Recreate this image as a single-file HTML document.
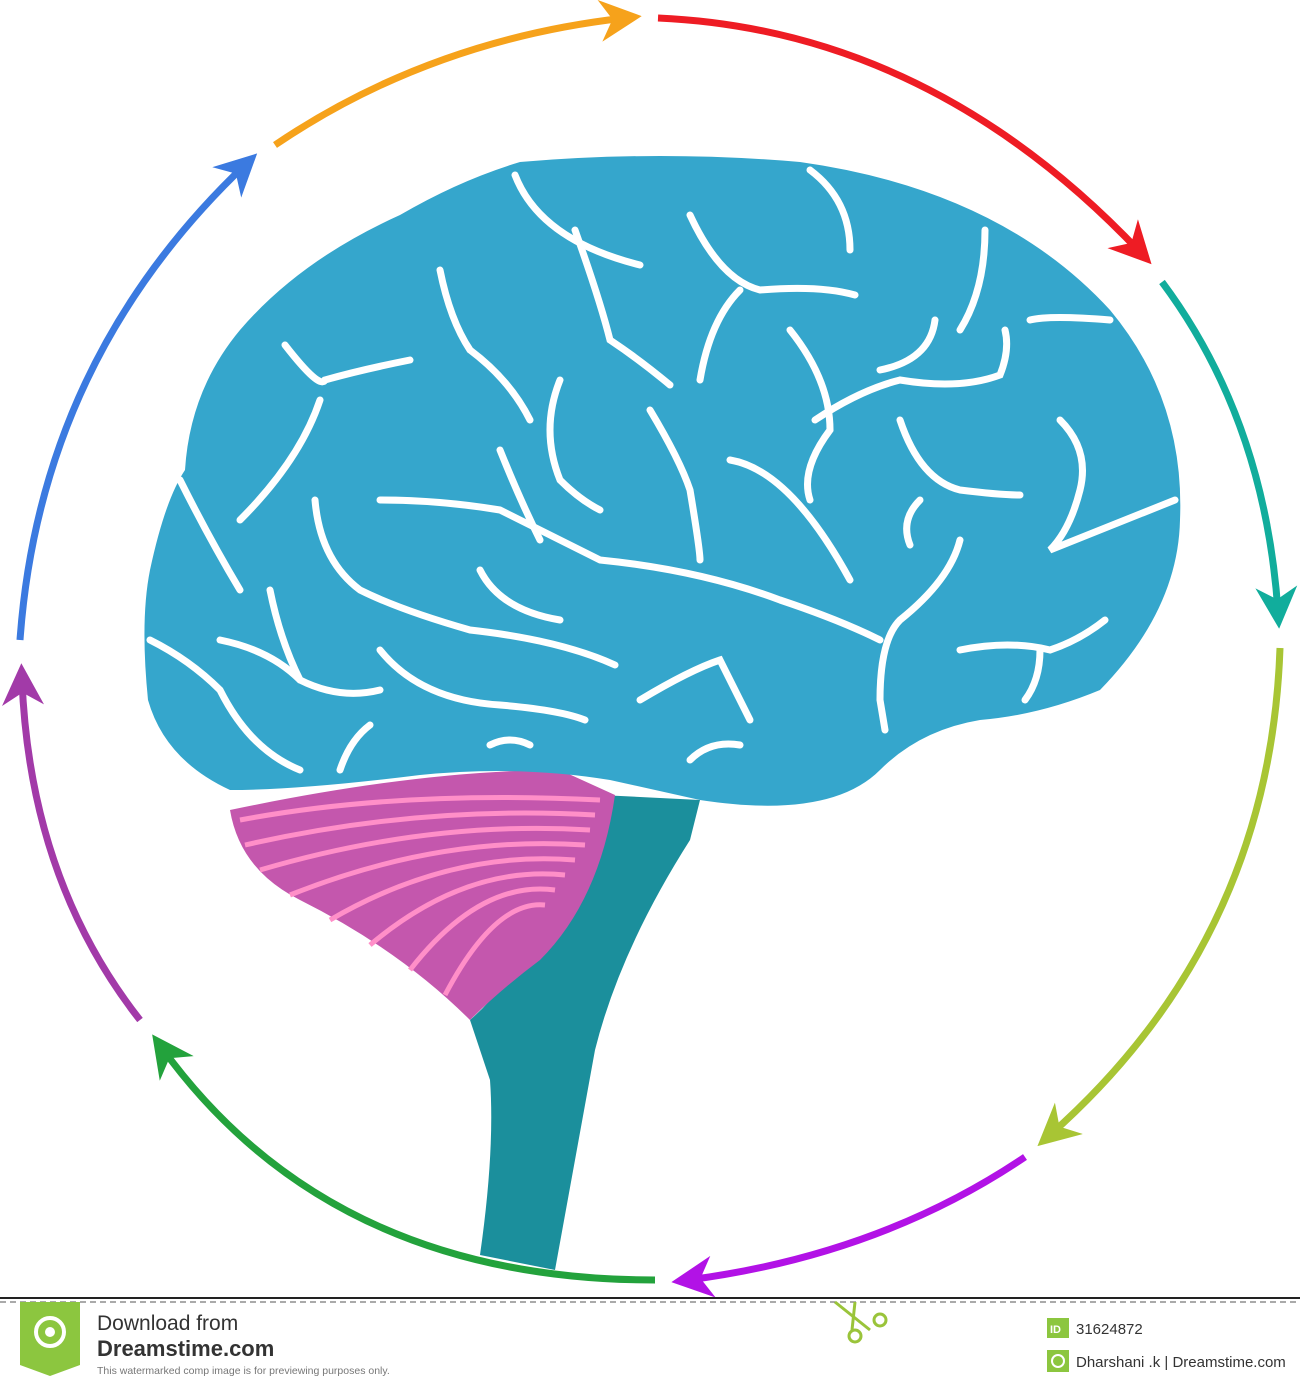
<!DOCTYPE html>
<html><head><meta charset="utf-8"><style>
body{margin:0;background:#fff;width:1300px;height:1389px;overflow:hidden;font-family:"Liberation Sans",sans-serif}
svg{position:absolute;left:0;top:0}
</style></head><body>
<svg width="1300" height="1389" viewBox="0 0 1300 1389">
<defs>
<marker id="ah" viewBox="0 0 10 10" refX="6" refY="5" markerWidth="6" markerHeight="6" orient="auto" markerUnits="strokeWidth"><path d="M0,0 L10,5 L0,10 L3,5 Z" fill="context-stroke"/></marker>
</defs>
<g fill="none" stroke-width="7">
<path d="M275,145 Q430,40 625,18" stroke="#f6a21b" marker-end="url(#ah)"/>
<path d="M658,18 Q930,30 1140,252" stroke="#ee1c24" marker-end="url(#ah)"/>
<path d="M1162,282 Q1265,420 1278,612" stroke="#11ad9c" marker-end="url(#ah)"/>
<path d="M1280,648 Q1270,940 1050,1135" stroke="#a8c534" marker-end="url(#ah)"/>
<path d="M1025,1157 Q880,1255 688,1280" stroke="#b212e6" marker-end="url(#ah)"/>
<path d="M655,1280 Q330,1280 162,1048" stroke="#23a23c" marker-end="url(#ah)"/>
<path d="M140,1020 Q30,880 22,680" stroke="#a23aa8" marker-end="url(#ah)"/>
<path d="M20,640 Q40,360 245,165" stroke="#3b7ae0" marker-end="url(#ah)"/>
</g>
<path fill="#1b8f9c" d="M600,795 L700,800 L690,840 Q620,950 595,1050 L555,1270 L480,1255 Q495,1150 490,1080 L470,1020 Q540,960 600,795Z"/>
<path fill="#c457ad" d="M230,810 Q420,770 560,770 L615,795 Q600,900 540,960 Q500,990 470,1020 Q400,950 300,900 Q240,870 230,810Z"/>
<g stroke="#ff8fc8" stroke-width="5" fill="none">
<path d="M240,820 Q400,790 600,800"/><path d="M245,845 Q420,805 595,815"/><path d="M260,870 Q430,820 590,830"/><path d="M290,895 Q440,835 585,845"/><path d="M330,920 Q450,850 575,860"/><path d="M370,945 Q465,865 565,875"/><path d="M410,970 Q480,880 555,890"/><path d="M445,995 Q495,900 545,905"/>
</g>
<path fill="#35a6cc" d="M520,162 Q660,150 800,162 Q1000,190 1110,310 Q1185,400 1180,520 Q1178,610 1100,690 Q1040,715 980,720 Q920,730 880,770 Q830,820 700,800 L610,780 Q520,765 420,775 Q300,790 230,790 Q165,760 148,700 Q140,620 150,570 Q165,500 185,470 Q190,390 240,330 Q300,260 400,215 Q460,180 520,162Z"/>
<g stroke="#fff" stroke-width="7" fill="none" stroke-linecap="round">
<path d="M515,175 Q540,240 640,265"/><path d="M575,230 Q600,300 610,340 Q640,360 670,385"/><path d="M690,215 Q720,280 760,290 Q820,285 855,295"/><path d="M700,380 Q710,320 740,290"/>
<path d="M810,170 Q850,200 850,250"/><path d="M985,230 Q985,290 960,330"/><path d="M1110,320 Q1050,315 1030,320"/><path d="M880,370 Q930,360 935,320"/>
<path d="M815,420 Q860,390 900,380 Q960,390 1000,375 Q1010,350 1005,330"/><path d="M285,345 Q320,390 325,380 Q360,370 410,360"/><path d="M240,520 Q300,460 320,400"/>
<path d="M440,270 Q450,320 470,350 Q510,380 530,420"/><path d="M560,380 Q540,430 560,480 Q580,500 600,510"/><path d="M650,410 Q680,460 690,490 Q700,550 700,560"/>
<path d="M380,500 Q440,500 500,510 Q560,540 600,560 Q700,570 780,600 Q840,620 880,640"/><path d="M500,450 Q520,500 540,540"/><path d="M730,460 Q790,470 850,580"/><path d="M790,330 Q830,380 830,430 Q800,470 810,500"/>
<path d="M180,480 Q210,540 240,590"/><path d="M150,640 Q190,660 220,690 Q250,750 300,770"/><path d="M220,640 Q270,650 300,680 Q340,700 380,690"/><path d="M315,500 Q320,560 360,590 Q400,610 470,630 Q560,640 615,665"/>
<path d="M270,590 Q280,640 300,680"/><path d="M380,650 Q420,700 500,705 Q560,710 585,720"/><path d="M480,570 Q500,610 560,620"/><path d="M640,700 Q690,670 720,660 Q740,700 750,720"/>
<path d="M900,420 Q920,480 960,490 Q1000,495 1020,495"/><path d="M1060,420 Q1090,450 1080,490 Q1070,530 1050,550 Q1100,530 1175,500"/><path d="M960,540 Q950,580 900,620 Q880,640 880,700 L885,730"/>
<path d="M960,650 Q1010,640 1050,650 Q1080,640 1105,620"/><path d="M1040,650 Q1040,680 1025,700"/><path d="M920,500 Q900,520 910,545"/><path d="M340,770 Q350,740 370,725"/><path d="M490,745 Q510,735 530,745"/><path d="M690,760 Q710,740 740,745"/>
</g>
<line x1="0" y1="1298" x2="1300" y2="1298" stroke="#222" stroke-width="2"/>
<line x1="0" y1="1302" x2="1300" y2="1302" stroke="#555" stroke-width="1" stroke-dasharray="6,4"/>
<path d="M20,1302 L80,1302 L80,1365 L50,1376 L20,1365Z" fill="#8cc63f"/>
<circle cx="50" cy="1332" r="14" fill="none" stroke="#fff" stroke-width="4"/><circle cx="50" cy="1332" r="5" fill="#fff"/>
<text x="97" y="1330" font-size="21" fill="#333">Download from</text>
<text x="97" y="1356" font-size="22" font-weight="bold" fill="#333">Dreamstime.com</text>
<text x="97" y="1374" font-size="10.5" fill="#777">This watermarked comp image is for previewing purposes only.</text>
<rect x="1047" y="1318" width="22" height="20" fill="#8cc63f"/><text x="1050" y="1333" font-size="11" fill="#fff" font-weight="bold">ID</text>
<text x="1076" y="1334" font-size="15" fill="#333">31624872</text>
<rect x="1047" y="1350" width="22" height="22" fill="#8cc63f"/><circle cx="1058" cy="1361" r="6" fill="none" stroke="#fff" stroke-width="2"/>
<text x="1076" y="1367" font-size="15" fill="#333">Dharshani .k | Dreamstime.com</text>
<g stroke="#9ac43a" stroke-width="3" fill="none"><path d="M835,1302 L870,1330"/><path d="M855,1302 L852,1330"/><circle cx="880" cy="1320" r="6"/><circle cx="855" cy="1336" r="6"/></g>
</svg>
</body></html>
